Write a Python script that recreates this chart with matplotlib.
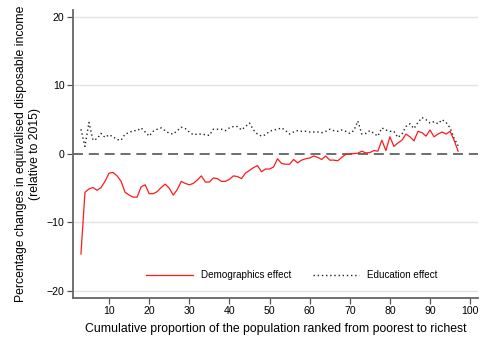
import matplotlib
matplotlib.use("Agg")
import matplotlib.pyplot as plt
import numpy as np

plt.rcParams["font.family"] = ["Liberation Sans", "DejaVu Sans"]

percentile = np.arange(3, 98)
demographics = [
    -14.6, -5.6, -5.1, -4.9, -5.3, -4.9, -4.0, -2.8, -2.7, -3.2,
    -4.0, -5.6, -6.0, -6.3, -6.3, -4.8, -4.5, -5.8, -5.8, -5.5,
    -4.9, -4.4, -5.0, -6.0, -5.2, -4.0, -4.3, -4.5, -4.3, -3.8,
    -3.2, -4.1, -4.1, -3.5, -3.6, -4.0, -4.0, -3.7, -3.2, -3.3,
    -3.6, -2.8, -2.4, -2.0, -1.7, -2.6, -2.2, -2.2, -1.9, -0.7,
    -1.4, -1.5, -1.5, -0.8, -1.3, -0.9, -0.7, -0.6, -0.3, -0.5,
    -0.8, -0.3, -0.9, -0.9, -1.0, -0.5, -0.05, 0.0, 0.05, 0.1,
    0.4, 0.15, 0.2, 0.5, 0.4, 2.0, 0.5, 2.5, 1.1, 1.6,
    2.0, 2.9, 2.5, 1.9, 3.3, 3.1, 2.6, 3.5, 2.5, 2.9,
    3.2, 2.9, 3.3, 2.0, 0.4,
]
education = [
    3.6, 1.1, 4.6, 2.0, 2.2, 3.0, 2.4, 2.8, 2.5, 2.1,
    2.0, 2.9, 3.1, 3.4, 3.4, 3.8, 3.2, 2.6, 3.3, 3.6,
    3.8, 3.4, 3.0, 2.9, 3.4, 3.9, 3.7, 3.2, 2.8, 2.9,
    2.9, 2.8, 2.7, 3.6, 3.6, 3.6, 3.4, 3.8, 4.0, 4.0,
    3.5, 4.0, 4.5, 3.5, 2.9, 2.6, 2.8, 3.3, 3.5, 3.6,
    3.8, 3.4, 2.9, 3.2, 3.4, 3.3, 3.3, 3.2, 3.2, 3.2,
    3.1, 3.3, 3.6, 3.4, 3.3, 3.5, 3.3, 3.0, 3.4, 4.8,
    2.9, 3.0, 3.4, 3.0, 2.6, 3.8, 3.5, 3.3, 3.3, 2.4,
    2.9, 4.0, 4.4, 3.7, 4.6, 5.3, 5.0, 4.5, 4.7, 4.4,
    5.0, 4.6, 3.8, 2.3, 1.2,
]
x_ticks = [10, 20, 30, 40, 50, 60, 70, 80, 90, 100]
y_ticks = [-20, -10, 0, 10, 20]

fig = plt.figure(figsize=(4.83, 3.44), dpi=100)
ax = fig.add_axes([0.151, 0.134, 0.839, 0.837])

for y in y_ticks:
    if y != 0:
        ax.axhline(y, color="#e3e3e3", lw=1.0, zorder=0)
ax.axhline(0, color="#555555", lw=1.2, dashes=(6, 3.5), zorder=1)

ax.plot(percentile, demographics, color="#ff1a1a", lw=0.9, label="Demographics effect", zorder=3)
ax.plot(percentile, education, color="#222222", lw=1.0, ls=(0, (1, 2)), label="Education effect", zorder=2)

ax.set_xlim(1, 102)
ax.set_ylim(-21, 21)
ax.set_xticks(x_ticks)
ax.set_yticks(y_ticks)
ax.tick_params(labelsize=7.6, color="#555555", length=4, width=0.9, pad=2)
for side in ["top", "right"]:
    ax.spines[side].set_visible(False)
for side in ["left", "bottom"]:
    ax.spines[side].set_color("#666666")
    ax.spines[side].set_linewidth(1.3)

ax.set_xlabel("Cumulative proportion of the population ranked from poorest to richest", fontsize=8.85, labelpad=5)
ax.set_ylabel("Percentage changes in equivalised disposable income\n(relative to 2015)", fontsize=8.85, labelpad=4)

ax.legend(loc="lower center", bbox_to_anchor=(0.54, 0.03), ncol=2, frameon=False,
          fontsize=7.1, handlelength=4.7, columnspacing=2.2, handletextpad=0.8)

fig.savefig("out.png", dpi=100)
